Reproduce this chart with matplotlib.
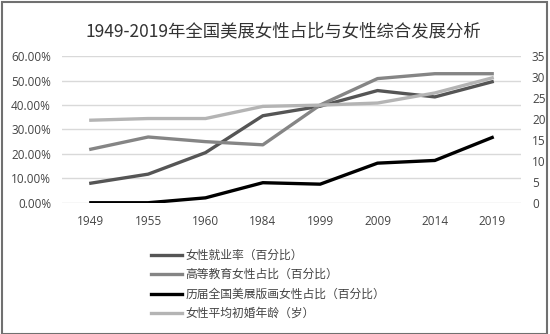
import matplotlib
matplotlib.use('Agg')
import matplotlib.pyplot as plt
from matplotlib.patches import Rectangle

plt.rcParams['font.family'] = ['Noto Sans CJK SC', 'DejaVu Sans']

years = ['1949', '1955', '1960', '1984', '1999', '2009', '2014', '2019']
employ = [8.0, 11.7, 20.5, 35.6, 39.5, 45.9, 43.3, 49.5]      # 女性就业率 %
higher_edu = [21.9, 26.9, 25.0, 23.7, 40.0, 50.8, 52.8, 52.8]  # 高等教育女性占比 %
print_art = [0.0, 0.0, 2.0, 8.2, 7.6, 16.2, 17.3, 26.7]        # 版画女性占比 %
marry_age = [19.7, 20.1, 20.1, 23.0, 23.3, 23.8, 26.2, 29.8]   # 初婚年龄 岁

labels = ['女性就业率（百分比）', '高等教育女性占比（百分比）',
          '历届全国美展版画女性占比（百分比）', '女性平均初婚年龄（岁）']

fig = plt.figure(figsize=(5.5, 3.34), dpi=100)
fig.patches.append(Rectangle((0.004, 0.0), 0.99, 0.995, transform=fig.transFigure,
                             fill=False, edgecolor='#707070', lw=1.5))
ax = fig.add_axes([0.113, 0.393, 0.834, 0.439])
ax2 = ax.twinx()

x = range(len(years))
l1, = ax.plot(x, employ, color='#555555', lw=2.4, label=labels[0])
l2, = ax.plot(x, higher_edu, color='#858585', lw=2.4, label=labels[1])
l3, = ax.plot(x, print_art, color='#000000', lw=2.4, label=labels[2])
l4, = ax2.plot(x, marry_age, color='#b4b4b4', lw=2.4, label=labels[3])

ax.set_xlim(-0.5, len(years) - 0.5)
ax.set_ylim(0, 60)
ax2.set_ylim(0, 35)
ax.set_yticks(range(0, 61, 10))
ax.set_yticklabels(['%.2f%%' % v for v in range(0, 61, 10)])
ax2.set_yticks(range(0, 36, 5))
ax.set_xticks(list(x))
ax.set_xticklabels(years)
ax.grid(axis='y', color='#d9d9d9', lw=1)
ax.set_axisbelow(True)
for a in (ax, ax2):
    for s in a.spines.values():
        s.set_visible(False)
    a.tick_params(length=0, labelsize=8.5, colors='#444444', labelfontfamily='Open Sans')
ax.tick_params(axis='y', pad=8)
ax.tick_params(axis='x', pad=9)
ax2.tick_params(axis='y', pad=8)

fig.text(0.515, 0.905, '1949-2019年全国美展女性占比与女性综合发展分析', ha='center', va='center',
         fontsize=12.5, color='#333333')

fig.legend(handles=[l1, l2, l3, l4], loc='upper left', bbox_to_anchor=(0.255, 0.287),
           frameon=False, fontsize=8.5, handlelength=2.6, handletextpad=0.3,
           labelspacing=0.55, labelcolor='#444444')

fig.savefig('out.png', dpi=100)
